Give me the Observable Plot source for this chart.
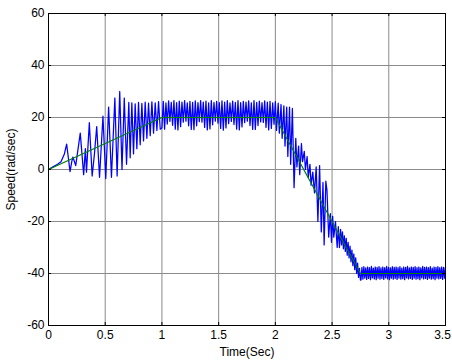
<!DOCTYPE html>
<html>
<head>
<meta charset="utf-8">
<script src="https://cdn.jsdelivr.net/npm/d3@7"></script>
<script src="https://cdn.jsdelivr.net/npm/@observablehq/plot@0.6"></script>
<style>
  html, body { margin: 0; padding: 0; background: #fff; }
  #chart { width: 452px; height: 361px; }
</style>
</head>
<body>
<div id="chart"></div>
<script>
// ---- tick labels ----
const xTicks = [0, 0.5, 1, 1.5, 2, 2.5, 3, 3.5];
const yTicks = [-60, -40, -20, 0, 20, 40, 60];

// ---- reference speed (green) ----
const refTime  = [0, 1, 2, 2.75, 3.5];
const refSpeed = [0, 20, 20, -40, -40];

// ---- actual speed (blue), read off the picture ----
// start-up, irregular oscillations
const startTime  = [0, 0.04, 0.08, 0.11, 0.14, 0.16, 0.19, 0.205, 0.215, 0.24, 0.28, 0.31, 0.325, 0.335, 0.36, 0.385, 0.405, 0.425, 0.45, 0.48, 0.505, 0.53, 0.555, 0.585, 0.605, 0.628, 0.648, 0.668, 0.688, 0.708];
const startSpeed = [0, 1, 2, 3, 6, 9.8, -0.8, 3, 4.8, 1.5, 14, -2, 8, -1, 18, -2.5, 6, 16.5, -3, 20.5, -3.5, 24, -3, 27.5, -2.5, 30, 0, 27.5, 2, 25.8];

// end of ramp, 0.72 .. 0.985 s (alternating trough / peak)
const rampSpeed = [4.5, 25.6, 6, 25.2, 8, 25.8, 9.5, 25.4, 11, 25.9, 12, 25.5, 13, 26, 14, 25.6, 15, 26.1, 15.5];

// steady 20 rad/s, 1.0 .. 2.0 s
const steadySpeed = [
  16, 26.2, 15.5, 25.6, 17.5, 26.4, 18.5, 25.8, 17, 26.5, 15.5, 25.7, 15.2, 26.3, 16.5, 25.9,
  18.2, 26.5, 18.6, 25.6, 16.8, 26.2, 15.4, 25.8, 15.3, 26.4, 16.8, 25.7, 18.4, 26.5, 18.2, 25.9,
  16.2, 26.3, 15.2, 25.6, 15.6, 26.5, 17.2, 25.8, 18.6, 26.2, 17.8, 25.7, 15.8, 26.4, 15.1, 25.9,
  16, 26.5, 17.6, 25.6, 18.5, 26.3, 17.3, 25.8, 15.5, 26.5, 15.2, 25.7, 16.4, 26.2, 18, 25.9,
  18.6, 26.4, 16.9, 25.6, 15.4, 26.5, 15.4, 25.8, 16.9, 26.3, 18.3, 25.7, 18.1, 26.4, 16.2, 25.9,
  15.2, 26.2, 15.8, 25.6, 17.4, 26.1
];

// deceleration, irregular
const decelTime  = [2.01, 2.025, 2.035, 2.05, 2.06, 2.075, 2.085, 2.10, 2.11, 2.125, 2.135, 2.15, 2.165, 2.18, 2.19, 2.205, 2.215, 2.23, 2.24, 2.255, 2.265, 2.28, 2.29, 2.305, 2.315, 2.33, 2.345, 2.36, 2.375, 2.39, 2.405, 2.42, 2.43, 2.445, 2.455, 2.47, 2.485, 2.495, 2.505, 2.515, 2.53, 2.545, 2.555, 2.565];
const decelSpeed = [15, 25.5, 14, 25, 12, 24.5, 9, 24, 5, 24, 2, 23.5, -7, 12, 1, 9, -2, 10, 3, 7, 0, 5, -3, 2, -6, -1, -9, 1, -20, 1.5, -24, -5, -29, -4.5, -8, -26, -17, -28, -18, -26, -20, -30, -22, -30];

// end of deceleration, 2.575 .. 2.75 s
const slopeSpeed = [-23, -29, -24, -30.5, -25.5, -31.5, -26.5, -33, -28, -34, -29.5, -35.5, -31, -37, -32.5, -38.5, -34, -40, -36, -41.5, -38, -42.5];

// steady -40 rad/s, 2.755 .. 3.5 s
const finalSpeed = [
  -42.5, -37.6, -42.2, -37.4, -41.8, -37.8, -42.3, -37.5, -41.9, -37.7, -42.4, -37.3, -41.7, -37.9, -42.1, -37.5,
  -42.4, -37.6, -41.8, -37.4, -42.2, -37.8, -41.9, -37.5, -42.3, -37.7, -41.7, -37.3, -42.1, -37.6, -42.4, -37.8,
  -41.8, -37.4, -42.2, -37.6, -41.9, -37.5, -42.3, -37.7, -41.8, -37.4, -42.2, -37.9, -42.0, -37.5, -42.4, -37.6,
  -41.7, -37.3, -42.1, -37.8, -41.9, -37.5, -42.3, -37.6, -41.8, -37.4, -42.2, -37.7, -42.0, -37.5, -42.4, -37.8,
  -41.7, -37.3, -42.1, -37.6, -41.9, -37.5, -42.3, -37.7, -41.8, -37.4, -42.2, -37.9, -42.0, -37.5, -42.4, -37.6,
  -41.8, -37.4, -42.1, -37.7, -41.9, -37.5, -42.3, -37.6, -41.8, -37.5
];

// ---- build tables ----
const pairs = (ts, vs) => ts.map((t, i) => ({t, v: vs[i]}));
const spread = (t0, t1, vs) => vs.map((v, i) => ({t: t0 + i * (t1 - t0) / (vs.length - 1), v}));

const blue = [].concat(
  pairs(startTime, startSpeed),
  spread(0.72, 0.985, rampSpeed),
  spread(1.0, 2.0, steadySpeed),
  pairs(decelTime, decelSpeed),
  spread(2.575, 2.75, slopeSpeed),
  spread(2.755, 3.5, finalSpeed)
);
const green = pairs(refTime, refSpeed);

const W = 452, H = 361;
const mL = 48, mR = 7, mT = 13, mB = 36;
const xDom = [0, 3.5], yDom = [-60, 60];
// inward tick length of 3px expressed in data units
const tx = 3 * (xDom[1] - xDom[0]) / (W - mL - mR);
const ty = 3 * (yDom[1] - yDom[0]) / (H - mT - mB);

const fmt = d => String(d);
const lastX = xTicks[xTicks.length - 1];

const chart = Plot.plot({
  width: W,
  height: H,
  marginLeft: mL,
  marginRight: mR,
  marginTop: mT,
  marginBottom: mB,
  style: {fontFamily: "'Liberation Sans', Arial, sans-serif", fontSize: "12px", background: "#fff", color: "#000"},
  x: {domain: xDom},
  y: {domain: yDom},
  marks: [
    Plot.gridX(xTicks, {stroke: "#8a8a8a", strokeOpacity: 1, strokeWidth: 1}),
    Plot.gridY(yTicks, {stroke: "#8a8a8a", strokeOpacity: 1, strokeWidth: 1}),
    Plot.line(blue, {x: "t", y: "v", stroke: "#0000ff", strokeWidth: 1.25}),
    Plot.line(green, {x: "t", y: "v", stroke: "#008000", strokeWidth: 1.2}),
    // inward ticks on all four sides
    Plot.ruleX(xTicks, {x: d => d, y1: yDom[0], y2: yDom[0] + ty, stroke: "#000"}),
    Plot.ruleX(xTicks, {x: d => d, y1: yDom[1], y2: yDom[1] - ty, stroke: "#000"}),
    Plot.ruleY(yTicks, {y: d => d, x1: xDom[0], x2: xDom[0] + tx, stroke: "#000"}),
    Plot.ruleY(yTicks, {y: d => d, x1: xDom[1], x2: xDom[1] - tx, stroke: "#000"}),
    Plot.frame({stroke: "#000", strokeWidth: 1}),
    Plot.axisX(xTicks.filter(d => d !== lastX), {tickSize: 0, tickPadding: 5, tickFormat: fmt, fontSize: 12,
      label: "Time(Sec)", labelAnchor: "center", labelOffset: 30, labelArrow: false}),
    Plot.axisX([lastX], {tickSize: 0, tickPadding: 5, tickFormat: fmt, fontSize: 12, dx: -3, label: null}),
    Plot.axisY(yTicks, {tickSize: 0, tickPadding: 4, tickFormat: fmt, fontSize: 12,
      label: "Speed(rad/sec)", labelAnchor: "center", labelOffset: 42, labelArrow: false})
  ]
});
document.getElementById("chart").appendChild(chart);
</script>
</body>
</html>
